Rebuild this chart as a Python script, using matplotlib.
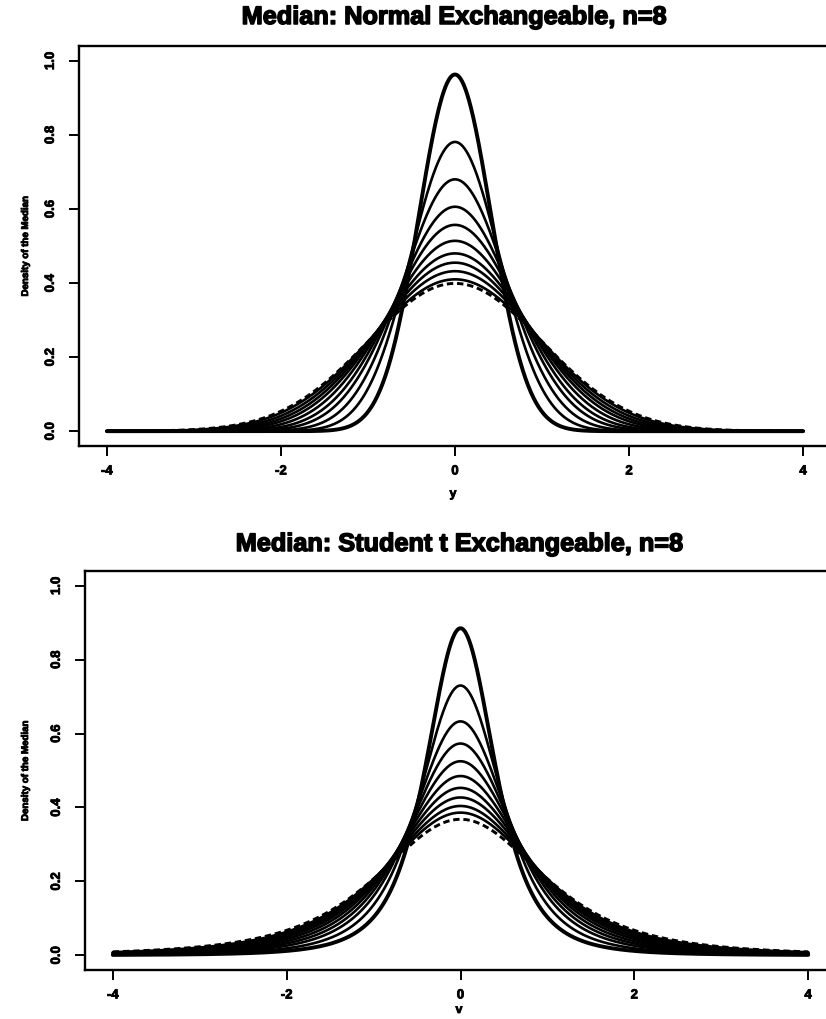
import math
import numpy as np
import matplotlib
matplotlib.use("Agg")
import matplotlib.pyplot as plt
import matplotlib.patheffects as pe

plt.rcParams['font.family'] = ['Liberation Sans', 'DejaVu Sans']

# Peak heights (rho = 0, 0.1, ..., 0.9; last = dashed limit curve)
normal_peaks = [0.963, 0.781, 0.680, 0.606, 0.557, 0.514, 0.480, 0.455, 0.432, 0.410]
normal_limit_peak = 0.399
t_peaks = [0.885, 0.730, 0.633, 0.573, 0.525, 0.485, 0.453, 0.427, 0.404, 0.386]
t_limit_peak = 0.368
t_df = 3

titles = ["Median: Normal Exchangeable, n=8", "Median: Student t Exchangeable, n=8"]
xlabels = ["y", "v"]
ylabel = "Density of the Median"
xticks = [-4, -2, 0, 2, 4]
yticks = [0.0, 0.2, 0.4, 0.6, 0.8, 1.0]
ytick_labels = ["0.0", "0.2", "0.4", "0.6", "0.8", "1.0"]

x = np.linspace(-4, 4, 801)


def normal_curve(peak):
    sd = 1.0 / (math.sqrt(2 * math.pi) * peak)
    return np.exp(-0.5 * (x / sd) ** 2) / (sd * math.sqrt(2 * math.pi))


def t_curve(peak, df):
    c = math.gamma((df + 1) / 2) / (math.sqrt(df * math.pi) * math.gamma(df / 2))
    s = c / peak
    z = x / s
    return c * (1 + z ** 2 / df) ** (-(df + 1) / 2) / s


W, H = 826, 1020
fig = plt.figure(figsize=(W / 100, H / 100), dpi=100)

heavy_title = [pe.withStroke(linewidth=1.1, foreground='black')]
heavy_small = [pe.withStroke(linewidth=0.6, foreground='black')]

# axes boxes in pixels: left, top, right, bottom
boxes = [(79, 47, 831, 447), (85, 572, 836, 971)]
title_y = [18, 545]
xlabel_y = [495, 1011]

for i, (l, t, r, b) in enumerate(boxes):
    ax = fig.add_axes([l / W, 1 - b / H, (r - l) / W, (b - t) / H])
    ax.set_xlim(-4.32, 4.32)
    ax.set_ylim(-0.04, 1.04)
    if i == 0:
        curves = [normal_curve(p) for p in normal_peaks]
        limit = normal_curve(normal_limit_peak)
    else:
        curves = [t_curve(p, t_df) for p in t_peaks]
        limit = t_curve(t_limit_peak, t_df)
    for k, yv in enumerate(curves):
        ax.plot(x, yv, color='black', lw=2.8 if k == 0 else 1.9, solid_capstyle='round')
    ax.plot(x, limit, color='black', lw=2.1, linestyle=(0, (2.2, 1.3)))

    ax.set_xticks(xticks)
    ax.set_xticklabels([str(v) if v >= 0 else "-" + str(-v) for v in xticks],
                       fontsize=9.5, fontweight='bold')
    ax.set_yticks(yticks)
    ax.set_yticklabels(ytick_labels, fontsize=9.5, fontweight='bold', rotation=90, va='center')
    for lab in ax.get_xticklabels() + ax.get_yticklabels():
        lab.set_path_effects(heavy_small)
    ax.tick_params(axis='both', direction='out', length=7, width=1.4, color='black')
    ax.tick_params(axis='x', pad=7)
    ax.tick_params(axis='y', pad=9)
    for sp in ax.spines.values():
        sp.set_linewidth(1.7)
        sp.set_color('black')

    fig.text(454 / W if i == 0 else 459 / W, 1 - title_y[i] / H, titles[i],
             ha='center', va='center', fontsize=18.2, fontweight='bold',
             path_effects=heavy_title)
    fig.text((453 if i == 0 else 459) / W, 1 - xlabel_y[i] / H, xlabels[i],
             ha='center', va='center', fontsize=9, fontweight='bold',
             path_effects=heavy_small)
    fig.text(25 / W, 1 - ((t + b) / 2) / H, ylabel, rotation=90,
             ha='center', va='center', fontsize=7, fontweight='bold',
             path_effects=heavy_small)

fig.savefig("out.png", dpi=100, facecolor='white')
